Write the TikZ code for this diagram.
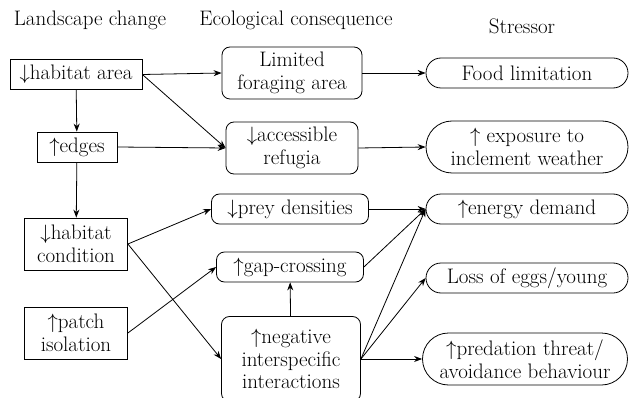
\documentclass[tikz,border=0pt]{standalone}
\usetikzlibrary{arrows.meta, shapes.misc}

\begin{document}
\begin{tikzpicture}[
    x=1pt, y=-1pt,
    >={Stealth[length=8pt,width=6pt]},
    every node/.style={font=\fontsize{21}{22.5}\selectfont, align=center, inner sep=2pt},
    change/.style={draw, line width=0.8pt, minimum height=30pt},
    effect/.style={draw, line width=0.8pt, rounded corners=8pt, minimum height=30pt},
    stress/.style={draw, line width=0.8pt, rounded rectangle, minimum width=206pt, minimum height=30pt},
    link/.style={->, line width=0.8pt}
]
\useasboundingbox (0,0) rectangle (631,398);

% Column headings
\node (hchange) at (90,20) {Landscape change};
\node (heffect) at (296,20) {Ecological consequence};
\node (hstress) at (522,26) {Stressor};

% Landscape change
\node[change, minimum width=132pt] (area) at (76,74.5) {$\downarrow$habitat area};
\node[change, minimum width=80pt] (edges) at (77,147) {$\uparrow$edges};
\node[change, minimum width=103pt, minimum height=52pt] (cond) at (76,244) {$\downarrow$habitat\\condition};
\node[change, minimum width=103pt, minimum height=52pt] (patch) at (76,333) {$\uparrow$patch\\isolation};

% Ecological consequence
\node[effect, minimum width=140pt, minimum height=52pt] (forage) at (292,73) {Limited\\foraging area};
\node[effect, minimum width=132pt, minimum height=52pt] (refugia) at (292,148) {$\downarrow$accessible\\refugia};
\node[effect, minimum width=157pt] (prey) at (290,209) {$\downarrow$prey densities};
\node[effect, minimum width=147pt] (gap) at (290,267) {$\uparrow$gap-crossing};
\node[effect, minimum width=139pt, minimum height=85pt] (neg) at (291,359) {$\uparrow$negative\\interspecific\\interactions};

% Stressor
\node[stress] (food) at (527,73) {Food limitation};
\node[stress, minimum height=52pt] (weather) at (527,147) {$\uparrow$ exposure to\\inclement weather};
\node[stress] (energy) at (527,209) {$\uparrow$energy demand};
\node[stress] (eggs) at (527,278) {Loss of eggs/young};
\node[stress, minimum width=209pt, minimum height=52pt] (predation) at (525,359) {$\uparrow$predation threat/\\avoidance behaviour};

% Links
\draw[link] (area) -- (edges);
\draw[link] (edges) -- (cond);
\draw[link] (area.east) -- (forage.west);
\draw[link] (area.east) -- (refugia.west);
\draw[link] (edges.east) -- (refugia.west);
\draw[link] (cond.east) -- (prey.west);
\draw[link] (cond.east) -- (neg.west);
\draw[link] (patch.east) -- (gap.west);
\draw[link] (neg) -- (gap);
\draw[link] (forage.east) -- (food.west);
\draw[link] (refugia.east) -- (weather.west);
\draw[link] (prey.east) -- (energy.west);
\draw[link] (gap.east) -- (energy.west);
\foreach \target in {energy, eggs, predation}
    \draw[link] (neg.east) -- (\target.west);

\end{tikzpicture}
\end{document}
